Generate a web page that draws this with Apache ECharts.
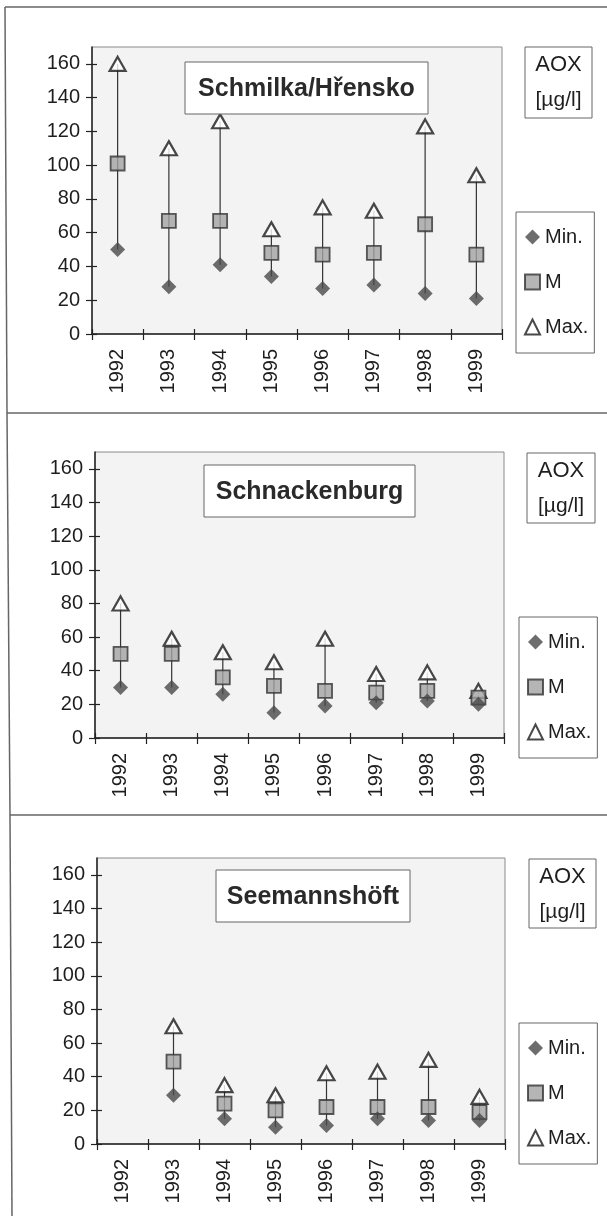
<!DOCTYPE html>
<html>
<head>
<meta charset="utf-8">
<script src="https://cdn.jsdelivr.net/npm/echarts@6/dist/echarts.min.js"></script>
<style>
  html, body { margin: 0; padding: 0; background: #fff; }
  #chart { width: 607px; height: 1216px; }
</style>
</head>
<body>
<div id="chart"></div>
<script>
  // AOX [µg/l] – Min., M, Max. per year and station
  const years = ['1992', '1993', '1994', '1995', '1996', '1997', '1998', '1999'];
  const yTicks = [0, 20, 40, 60, 80, 100, 120, 140, 160];
  const stations = ['Schmilka/Hřensko', 'Schnackenburg', 'Seemannshöft'];

  const schmilkaMin = [50, 28, 41, 34, 27, 29, 24, 21];
  const schmilkaM   = [101, 67, 67, 48, 47, 48, 65, 47];
  const schmilkaMax = [160, 110, 126, 62, 75, 73, 123, 94];

  const schnackMin = [30, 30, 26, 15, 19, 21, 22, 20];
  const schnackM   = [50, 50, 36, 31, 28, 27, 28, 24];
  const schnackMax = [80, 59, 51, 45, 59, 38, 39, 28];

  const seemannMin = [null, 29, 15, 10, 11, 15, 14, 14];
  const seemannM   = [null, 49, 24, 20, 22, 22, 22, 19];
  const seemannMax = [null, 70, 35, 29, 42, 43, 50, 28];

  const mins = [schmilkaMin, schnackMin, seemannMin];
  const means = [schmilkaM, schnackM, seemannM];
  const maxs = [schmilkaMax, schnackMax, seemannMax];

  const font = "'Liberation Sans', Arial, sans-serif";
  const ink = '#1e1e1e';

  // panel geometry (px)
  const panels = [
    {gl: 92, gt: 47, gw: 410, gh: 287, title: [185, 62, 243, 52], aox: [525, 47, 67, 71], legend: [516, 212]},
    {gl: 95, gt: 452, gw: 409, gh: 286, title: [204, 465, 211, 52], aox: [527, 453, 68, 70], legend: [519, 617]},
    {gl: 97, gt: 858, gw: 408, gh: 286, title: [216, 870, 194, 52], aox: [529, 859, 67, 69], legend: [519, 1023]}
  ];

  const grid = [], xAxis = [], yAxis = [], series = [], legend = [], graphic = [];

  panels.forEach((p, k) => {
    grid.push({
      left: p.gl, top: p.gt, width: p.gw, height: p.gh,
      show: true, backgroundColor: '#f3f3f3', borderColor: '#8a8a8a', borderWidth: 1
    });
    // main axes
    xAxis.push({
      type: 'category', gridIndex: k, data: years, boundaryGap: true, position: 'bottom',
      axisLine: {lineStyle: {color: '#222', width: 1.5}},
      axisTick: {show: true, length: 6, lineStyle: {color: '#222', width: 1.2}},
      axisLabel: {rotate: 90, margin: 15, fontSize: 20, fontFamily: font, color: ink, interval: 0}
    });
    yAxis.push({
      type: 'value', gridIndex: k, min: 0, max: 170, interval: 20, position: 'left',
      splitLine: {show: false},
      axisLine: {show: true, lineStyle: {color: '#222', width: 1.5}},
      axisTick: {show: true, length: 6, customValues: yTicks, lineStyle: {color: '#222', width: 1.2}},
      axisLabel: {margin: 12, fontSize: 20, fontFamily: font, color: ink, customValues: yTicks}
    });
  });
  // helper axes so the ticks cross the axis lines
  panels.forEach((p, k) => {
    xAxis.push({
      type: 'category', gridIndex: k, data: years, boundaryGap: true, position: 'bottom',
      axisLine: {show: false}, axisLabel: {show: false}, splitLine: {show: false},
      axisTick: {show: true, inside: true, length: 5, lineStyle: {color: '#222', width: 1.2}}
    });
    yAxis.push({
      type: 'value', gridIndex: k, min: 0, max: 170, interval: 20, position: 'left',
      axisLine: {show: false}, axisLabel: {show: false}, splitLine: {show: false},
      axisTick: {show: true, inside: true, length: 5, customValues: yTicks, lineStyle: {color: '#222', width: 1.2}}
    });
  });

  panels.forEach((p, k) => {
    const rangeData = [];
    years.forEach((y, i) => {
      if (mins[k][i] != null && maxs[k][i] != null) rangeData.push([i, mins[k][i], maxs[k][i]]);
    });
    series.push({
      type: 'custom', xAxisIndex: k, yAxisIndex: k, z: 1, silent: true,
      encode: {x: 0, y: [1, 2]},
      data: rangeData,
      renderItem: function (params, api) {
        const lo = api.coord([api.value(0), api.value(1)]);
        const hi = api.coord([api.value(0), api.value(2)]);
        return {type: 'line', shape: {x1: lo[0], y1: lo[1], x2: hi[0], y2: hi[1]},
          style: {stroke: '#333', lineWidth: 1.2}};
      }
    });
    series.push({
      name: 'Max.', type: 'scatter', xAxisIndex: k, yAxisIndex: k, z: 3,
      symbol: 'triangle', symbolSize: [16, 14],
      itemStyle: {color: '#fff', borderColor: '#1a1a1a', borderWidth: 2.2},
      data: maxs[k]
    });
    series.push({
      name: 'M', type: 'scatter', xAxisIndex: k, yAxisIndex: k, z: 4,
      symbol: 'rect', symbolSize: 14,
      itemStyle: {color: '#a2a2a2', borderColor: '#333', borderWidth: 1.8},
      data: means[k]
    });
    series.push({
      name: 'Min.', type: 'scatter', xAxisIndex: k, yAxisIndex: k, z: 5,
      symbol: 'diamond', symbolSize: 15,
      itemStyle: {color: '#484848'},
      data: mins[k]
    });

    legend.push({
      data: ['Min.', 'M', 'Max.'], orient: 'vertical',
      left: p.legend[0], top: p.legend[1],
      padding: [15, 6, 16, 8], itemWidth: 15, itemHeight: 15, itemGap: 25, itemTextGap: 6,
      backgroundColor: '#fff', borderColor: '#666', borderWidth: 1, borderRadius: 0,
      selectedMode: false,
      textStyle: {fontSize: 20, fontFamily: font, color: ink}
    });

    const t = p.title;
    graphic.push({
      type: 'rect', z: 100, shape: {x: t[0], y: t[1], width: t[2], height: t[3]},
      style: {fill: '#fff', stroke: '#666', lineWidth: 1}
    });
    graphic.push({
      type: 'text', z: 101, x: t[0] + t[2] / 2, y: t[1] + t[3] / 2 + 1,
      style: {text: stations[k], fontSize: 25, fontWeight: 'bold', fontFamily: font, fill: '#2a2a2a',
        align: 'center', verticalAlign: 'middle'}
    });
    const a = p.aox;
    graphic.push({
      type: 'rect', z: 100, shape: {x: a[0], y: a[1], width: a[2], height: a[3]},
      style: {fill: '#fff', stroke: '#666', lineWidth: 1}
    });
    graphic.push({
      type: 'text', z: 101, x: a[0] + a[2] / 2, y: a[1] + 18,
      style: {text: 'AOX', fontSize: 22, fontFamily: font, fill: ink, align: 'center', verticalAlign: 'middle'}
    });
    graphic.push({
      type: 'text', z: 101, x: a[0] + a[2] / 2, y: a[1] + 53,
      style: {text: '[µg/l]', fontSize: 21, fontFamily: font, fill: ink, align: 'center', verticalAlign: 'middle'}
    });
  });

  // page frame and panel separators
  const frame = {stroke: '#666', lineWidth: 1.5};
  graphic.push({type: 'line', z: 100, shape: {x1: 5, y1: 7, x2: 607, y2: 7}, style: frame});
  graphic.push({type: 'line', z: 100, shape: {x1: 5, y1: 7, x2: 7, y2: 413}, style: frame});
  graphic.push({type: 'line', z: 100, shape: {x1: 7, y1: 413, x2: 10, y2: 815}, style: frame});
  graphic.push({type: 'line', z: 100, shape: {x1: 10, y1: 815, x2: 12, y2: 1216}, style: frame});
  graphic.push({type: 'line', z: 100, shape: {x1: 7, y1: 413, x2: 607, y2: 413}, style: frame});
  graphic.push({type: 'line', z: 100, shape: {x1: 10, y1: 815, x2: 607, y2: 815}, style: frame});

  const chart = echarts.init(document.getElementById('chart'), null, {renderer: 'canvas'});
  chart.setOption({
    backgroundColor: '#fff',
    animation: false,
    grid: grid,
    xAxis: xAxis,
    yAxis: yAxis,
    legend: legend,
    graphic: graphic,
    series: series
  });
</script>
</body>
</html>
